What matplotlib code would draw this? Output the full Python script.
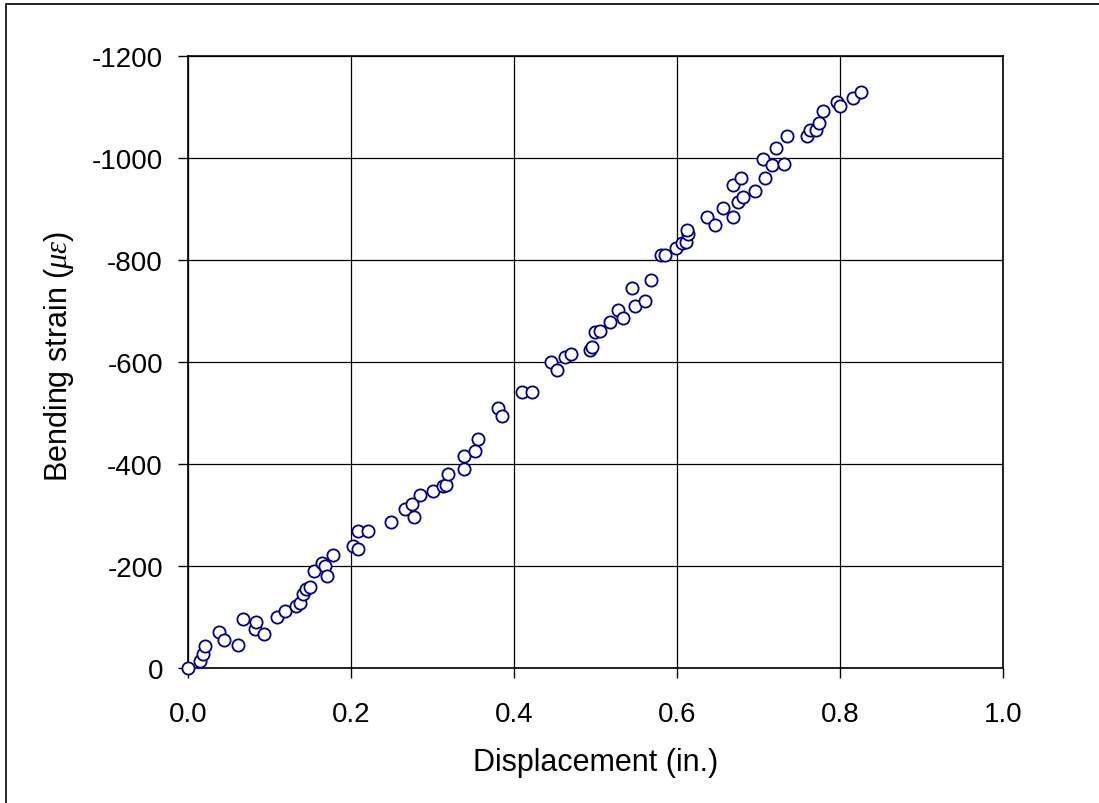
import matplotlib
matplotlib.use("Agg")
import matplotlib.pyplot as plt
from matplotlib.patches import Rectangle

plt.rcParams["font.family"] = ["Liberation Sans", "DejaVu Sans"]
plt.rcParams["axes.unicode_minus"] = False
plt.rcParams["mathtext.fontset"] = "custom"
plt.rcParams["mathtext.rm"] = "Liberation Sans"
plt.rcParams["mathtext.it"] = "Liberation Serif:italic"

# 位移 (in.) 与弯曲应变 (微应变)
disp = [0.000, 0.015, 0.019, 0.021, 0.038, 0.044, 0.061, 0.068, 0.082, 0.083,
        0.093, 0.109, 0.119, 0.132, 0.137, 0.141, 0.145, 0.150, 0.155, 0.164,
        0.168, 0.171, 0.178, 0.202, 0.209, 0.209, 0.221, 0.249, 0.266, 0.275,
        0.277, 0.285, 0.301, 0.313, 0.316, 0.319, 0.339, 0.339, 0.352, 0.356,
        0.380, 0.385, 0.410, 0.422, 0.445, 0.453, 0.462, 0.470, 0.493, 0.496,
        0.499, 0.506, 0.518, 0.528, 0.534, 0.545, 0.549, 0.561, 0.568, 0.580,
        0.585, 0.599, 0.606, 0.611, 0.614, 0.612, 0.637, 0.647, 0.657, 0.669,
        0.675, 0.681, 0.669, 0.678, 0.696, 0.708, 0.706, 0.716, 0.731, 0.721,
        0.735, 0.759, 0.763, 0.771, 0.774, 0.779, 0.796, 0.800, 0.816, 0.826]
strain = [0, -14, -27, -43, -70, -55, -45, -96, -77, -90,
          -67, -100, -112, -121, -128, -145, -155, -159, -190, -206,
          -200, -180, -222, -240, -233, -268, -268, -287, -312, -322,
          -297, -340, -347, -357, -359, -380, -390, -415, -425, -449,
          -510, -494, -541, -541, -600, -584, -610, -616, -624, -629,
          -659, -660, -679, -702, -686, -745, -710, -720, -761, -810,
          -810, -823, -833, -835, -851, -859, -884, -869, -902, -884,
          -914, -924, -947, -961, -936, -961, -998, -986, -988, -1020,
          -1043, -1043, -1055, -1055, -1069, -1092, -1110, -1102, -1118, -1130]

xticks = [0.0, 0.2, 0.4, 0.6, 0.8, 1.0]
yticks = [0, -200, -400, -600, -800, -1000, -1200]

fig = plt.figure(figsize=(10.99, 8.04), dpi=100)
# 外框只露出左边和上边
fig.patches.append(Rectangle((6 / 1099, -0.2), 1.2, 1.2 - 5 / 804, transform=fig.transFigure,
                             fill=False, ec="black", lw=1.2))
ax = fig.add_axes([188 / 1099, 135 / 804, 815 / 1099, 612 / 804])

ax.plot(disp, strain, "o", ms=8.8, mfc="white", mec="#000080", mew=1.3, clip_on=False, zorder=3)

ax.set_xlim(0, 1.0)
ax.set_ylim(0, -1200)
ax.set_xticks(xticks)
ax.set_xticklabels([f"{t:.1f}" for t in xticks])
ax.set_yticks(yticks)
ax.set_yticklabels([str(t) for t in yticks])
ax.grid(True, color="black", lw=0.9)
ax.set_axisbelow(True)
for s in ax.spines.values():
    s.set_linewidth(1.2)
ax.tick_params(direction="out", length=7, width=1.0, labelsize=20)
ax.tick_params(axis="x", pad=17)
ax.tick_params(axis="y", pad=11)

ax.set_xlabel("Displacement (in.)", fontsize=22, labelpad=14)
ax.set_ylabel(r"Bending strain ($\mu\varepsilon$)", fontsize=22, labelpad=14)
ax.yaxis.set_label_coords(-0.137, 0.511)

fig.savefig("out.png", dpi=100)
